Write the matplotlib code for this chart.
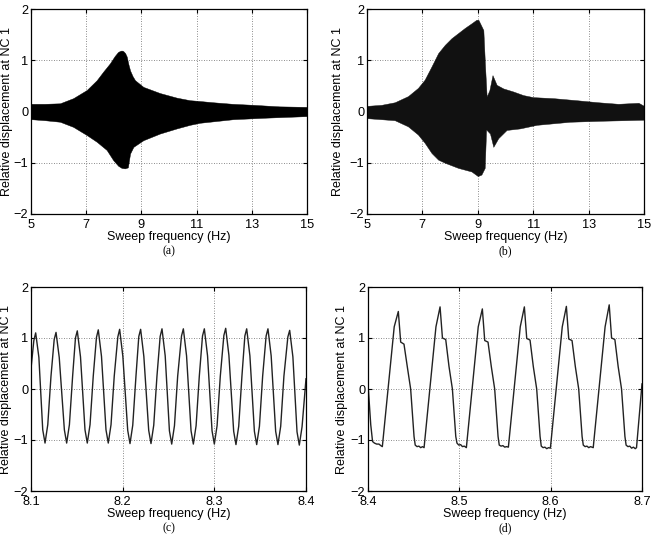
import matplotlib
matplotlib.use("Agg")
import matplotlib.pyplot as plt
import numpy as np

plt.rcParams['font.family'] = ['Liberation Sans', 'DejaVu Sans']

# ---------------- (a) envelope of the sweep response ----------------
a_up_f = [5.0, 5.5, 6.05, 6.53, 7.02, 7.38, 7.62, 7.86, 8.03, 8.15, 8.22, 8.28, 8.34, 8.41, 8.47, 8.53, 8.59, 8.68, 8.77, 9.07, 9.67, 10.28, 10.76, 11.0, 11.6, 12.3, 13.05, 14.0, 15.0]
a_up_v = [0.15, 0.15, 0.16, 0.26, 0.42, 0.61, 0.78, 0.94, 1.08, 1.16, 1.18, 1.19, 1.18, 1.14, 1.07, 0.92, 0.80, 0.69, 0.61, 0.48, 0.36, 0.27, 0.22, 0.21, 0.18, 0.15, 0.13, 0.10, 0.09]
a_lo_f = [5.0, 5.5, 6.05, 6.53, 7.02, 7.38, 7.74, 7.98, 8.16, 8.28, 8.40, 8.51, 8.55, 8.59, 8.71, 9.07, 9.67, 10.28, 10.76, 11.12, 12.33, 13.53, 15.0]
a_lo_v = [-0.15, -0.17, -0.20, -0.30, -0.46, -0.59, -0.75, -0.95, -1.06, -1.10, -1.11, -1.09, -0.95, -0.82, -0.69, -0.56, -0.43, -0.33, -0.26, -0.22, -0.15, -0.12, -0.09]

# ---------------- (b) envelope of the sweep response ----------------
b_up_f = [5.0, 5.52, 6.0, 6.48, 6.84, 7.08, 7.33, 7.57, 7.81, 8.05, 8.29, 8.53, 8.77, 8.95, 9.02, 9.2, 9.26, 9.32, 9.42, 9.53, 9.68, 9.92, 10.28, 10.64, 11.0, 11.73, 12.57, 13.35, 14.07, 14.8, 15.0]
b_up_v = [0.11, 0.13, 0.18, 0.30, 0.46, 0.62, 0.88, 1.14, 1.30, 1.43, 1.53, 1.63, 1.72, 1.79, 1.79, 1.59, 0.90, 0.29, 0.42, 0.71, 0.52, 0.45, 0.39, 0.32, 0.28, 0.26, 0.22, 0.18, 0.15, 0.17, 0.11]
b_lo_f = [5.0, 6.0, 6.48, 6.84, 7.08, 7.33, 7.57, 7.81, 8.29, 8.77, 9.0, 9.13, 9.25, 9.30, 9.44, 9.56, 9.74, 10.04, 10.52, 11.13, 12.33, 13.5, 14.3, 15.0]
b_lo_v = [-0.13, -0.17, -0.29, -0.45, -0.61, -0.81, -0.94, -1.00, -1.10, -1.17, -1.26, -1.23, -1.10, -0.35, -0.43, -0.69, -0.52, -0.36, -0.33, -0.26, -0.20, -0.18, -0.17, -0.16]

# ---------------- (c) time trace, 8.1 - 8.4 Hz ----------------
c_freq = [8.1000, 8.1031,
          8.1051, 8.1086, 8.1128, 8.1153, 8.1183, 8.1218, 8.1253,
          8.1273, 8.1308, 8.1364, 8.1389, 8.1419, 8.1454, 8.1485,
          8.1505, 8.1540, 8.1589, 8.1614, 8.1644, 8.1679, 8.1714,
          8.1734, 8.1769, 8.1818, 8.1843, 8.1873, 8.1908, 8.1947,
          8.1967, 8.2002, 8.2055, 8.2080, 8.2110, 8.2145, 8.2176,
          8.2196, 8.2231, 8.2284, 8.2309, 8.2339, 8.2374, 8.2409,
          8.2429, 8.2464, 8.2510, 8.2535, 8.2565, 8.2600, 8.2642,
          8.2662, 8.2697, 8.2746, 8.2771, 8.2801, 8.2836, 8.2871,
          8.2891, 8.2926, 8.2975, 8.3000, 8.3030, 8.3065, 8.3104,
          8.3124, 8.3159, 8.3211, 8.3236, 8.3266, 8.3301, 8.3333,
          8.3353, 8.3388, 8.3437, 8.3462, 8.3492, 8.3527, 8.3565,
          8.3585, 8.3620, 8.3669, 8.3694, 8.3724, 8.3759, 8.3802,
          8.3822, 8.3857, 8.3902, 8.3927, 8.3957, 8.4000]
c_disp = [0.40, 0.95,
          1.10, 0.62, -0.80, -1.06, -0.70, 0.25, 0.97,
          1.11, 0.62, -0.80, -1.06, -0.70, 0.25, 1.00,
          1.14, 0.63, -0.80, -1.06, -0.70, 0.25, 1.01,
          1.16, 0.64, -0.80, -1.06, -0.70, 0.25, 1.02,
          1.17, 0.64, -0.81, -1.07, -0.71, 0.25, 1.03,
          1.17, 0.64, -0.81, -1.07, -0.71, 0.25, 1.03,
          1.18, 0.65, -0.82, -1.08, -0.72, 0.25, 1.04,
          1.18, 0.65, -0.82, -1.08, -0.72, 0.25, 1.04,
          1.18, 0.65, -0.82, -1.08, -0.72, 0.25, 1.05,
          1.19, 0.66, -0.83, -1.09, -0.73, 0.25, 1.04,
          1.18, 0.65, -0.83, -1.09, -0.73, 0.25, 1.04,
          1.18, 0.65, -0.83, -1.09, -0.73, 0.25, 1.02,
          1.15, 0.63, -0.84, -1.10, -0.74, 0.20]

# ---------------- (d) time trace, 8.4 - 8.7 Hz ----------------
d_freq = [8.4000, 8.4030, 8.4050, 8.4070, 8.4095, 8.4120, 8.4140,
          8.4157, 8.4287, 8.4332, 8.4358, 8.4394, 8.4430, 8.4467, 8.4504, 8.4517, 8.4537, 8.4557, 8.4577, 8.4597,
          8.4614, 8.4744, 8.4789, 8.4815, 8.4851, 8.4887, 8.4924, 8.4961, 8.4974, 8.4994, 8.5014, 8.5034, 8.5054,
          8.5077, 8.5207, 8.5252, 8.5278, 8.5314, 8.5350, 8.5387, 8.5424, 8.5437, 8.5457, 8.5477, 8.5497, 8.5517,
          8.5537, 8.5667, 8.5712, 8.5738, 8.5774, 8.5810, 8.5847, 8.5884, 8.5897, 8.5917, 8.5937, 8.5957, 8.5977,
          8.5997, 8.6127, 8.6172, 8.6198, 8.6234, 8.6270, 8.6307, 8.6344, 8.6357, 8.6377, 8.6397, 8.6417, 8.6437,
          8.6466, 8.6596, 8.6641, 8.6667, 8.6703, 8.6739, 8.6776, 8.6813, 8.6826, 8.6846, 8.6866, 8.6886, 8.6906, 8.6926,
          8.6940, 8.7000]
d_disp = [0.10, -0.70, -1.03, -1.06, -1.08, -1.08, -1.11,
          -1.13, 1.22, 1.52, 0.92, 0.88, 0.44, 0.00, -0.93, -1.10, -1.13, -1.12, -1.15, -1.13,
          -1.15, 1.22, 1.61, 1.00, 0.97, 0.44, 0.00, -0.93, -1.06, -1.10, -1.09, -1.13, -1.12,
          -1.15, 1.22, 1.57, 0.95, 0.92, 0.44, 0.00, -0.93, -1.10, -1.12, -1.11, -1.14, -1.13,
          -1.14, 1.22, 1.61, 0.99, 0.96, 0.44, 0.00, -0.93, -1.12, -1.15, -1.14, -1.17, -1.15,
          -1.16, 1.22, 1.62, 0.98, 0.95, 0.44, 0.00, -0.93, -1.10, -1.13, -1.12, -1.15, -1.13,
          -1.15, 1.22, 1.65, 1.00, 0.97, 0.44, 0.00, -0.93, -1.10, -1.13, -1.12, -1.16, -1.14, -1.17,
          -1.15, 0.10]

xticks_wide = [5, 7, 9, 11, 13, 15]
xticks_c = [8.1, 8.2, 8.3, 8.4]
xticks_d = [8.4, 8.5, 8.6, 8.7]
yticks = [-2, -1, 0, 1, 2]
captions = ['(a)', '(b)', '(c)', '(d)']

W, H = 653, 536
fig = plt.figure(figsize=(W / 100, H / 100), dpi=100)

def px_axes(x0, y0, x1, y1):
    return fig.add_axes([x0 / W, 1 - y1 / H, (x1 - x0) / W, (y1 - y0) / H])

axA = px_axes(31, 9, 307, 214)
axB = px_axes(367, 9, 644, 214)
axC = px_axes(31, 287, 306, 491)
axD = px_axes(368, 287, 642, 491)

def style(ax, xticks, xlabels, cap, ylab_x):
    ax.set_ylim(-2, 2)
    ax.set_xlim(xticks[0], xticks[-1])
    ax.set_xticks(xticks)
    ax.set_xticklabels(xlabels)
    ax.set_yticks(yticks)
    ax.set_yticklabels(['\u22122', '\u22121', '0', '1', '2'])
    ax.grid(True, linestyle=(0, (1, 2)), color='#666666', linewidth=0.6)
    ax.set_axisbelow(True)
    ax.tick_params(direction='in', length=3, width=0.8, top=True, right=True,
                   labelsize=9.2, colors='black')
    ax.tick_params(axis='x', pad=3.5)
    ax.tick_params(axis='y', pad=2)
    for s in ax.spines.values():
        s.set_linewidth(0.9)
    ax.set_xlabel('Sweep frequency (Hz)', fontsize=9, labelpad=0)
    ax.set_ylabel('Relative displacement at NC 1', fontsize=9)
    ax.yaxis.set_label_coords(ylab_x, 0.5)
    ax.text(0.5, -0.155, cap, transform=ax.transAxes, ha='center', va='top',
            fontsize=8.5, family='Liberation Serif')

axA.fill_between(a_up_f, a_up_v, 0, color='black', linewidth=0.3)
axA.fill_between(a_lo_f, a_lo_v, 0, color='black', linewidth=0.3)
style(axA, xticks_wide, [str(v) for v in xticks_wide], captions[0], -0.067)

axB.fill_between(b_up_f, b_up_v, 0, color='#111111', linewidth=0.3)
axB.fill_between(b_lo_f, b_lo_v, 0, color='#111111', linewidth=0.3)
style(axB, xticks_wide, [str(v) for v in xticks_wide], captions[1], -0.083)

axC.plot(c_freq, c_disp, color='#222222', linewidth=1.0)
style(axC, xticks_c, ['8.1', '8.2', '8.3', '8.4'], captions[2], -0.069)

axD.plot(d_freq, d_disp, color='#222222', linewidth=1.0)
style(axD, xticks_d, ['8.4', '8.5', '8.6', '8.7'], captions[3], -0.074)

fig.savefig('out.png', dpi=100)
